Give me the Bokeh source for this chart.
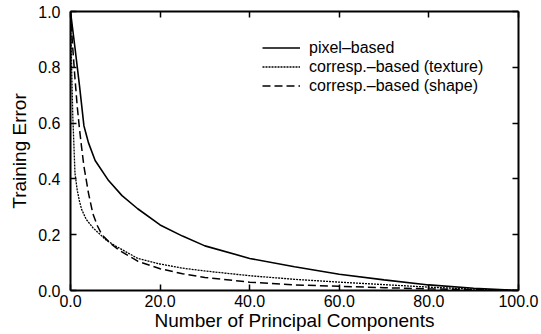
from bokeh.plotting import figure
from bokeh.models import Range1d, LinearAxis, FixedTicker, NumeralTickFormatter, Legend, LegendItem
from bokeh.embed import file_html
from bokeh.resources import INLINE

# Data
pixel_x = [0, 1, 2, 3, 3.5, 4, 5.5, 8.5, 11.5, 15, 20, 25, 30, 40, 50, 60, 70, 80, 90, 100]
pixel_y = [1.0, 0.87, 0.735, 0.59, 0.56, 0.53, 0.466, 0.394, 0.34, 0.293, 0.235, 0.195, 0.16, 0.115, 0.085, 0.058, 0.038, 0.02, 0.008, 0.0]

texture_x = [0, 0.25, 0.5, 1, 1.5, 2, 2.5, 3.5, 5, 6, 8, 10, 15, 20, 25, 30, 40, 50, 60, 70, 80, 90, 100]
texture_y = [1.0, 0.8, 0.63, 0.42, 0.36, 0.32, 0.29, 0.255, 0.225, 0.21, 0.18, 0.16, 0.115, 0.095, 0.08, 0.07, 0.053, 0.04, 0.03, 0.021, 0.012, 0.005, 0.0]

shape_x = [0, 0.5, 1, 1.5, 2, 2.5, 3, 4, 5, 6, 7, 9, 11, 15, 20, 25, 30, 40, 50, 60, 70, 80, 90, 100]
shape_y = [1.0, 0.87, 0.76, 0.66, 0.58, 0.51, 0.445, 0.35, 0.275, 0.232, 0.2, 0.168, 0.143, 0.105, 0.078, 0.06, 0.047, 0.03, 0.02, 0.015, 0.01, 0.006, 0.003, 0.0]

labels = ["pixel\u2013based", "corresp.\u2013based (texture)", "corresp.\u2013based (shape)"]
x_ticks = [0, 20, 40, 60, 80, 100]
y_ticks = [0.0, 0.2, 0.4, 0.6, 0.8, 1.0]

FONT = "Liberation Sans"

p = figure(width=541, height=334, output_backend="svg", toolbar_location=None,
           x_range=Range1d(0, 100), y_range=Range1d(0, 1),
           min_border_left=70, min_border_right=23, min_border_top=11, min_border_bottom=44,
           x_axis_label="Number of Principal Components", y_axis_label="Training Error")
p.grid.visible = False
p.outline_line_color = None
p.background_fill_color = "white"
p.border_fill_color = "white"

r1 = p.line(pixel_x, pixel_y, line_color="black", line_width=1.6)
r2 = p.line(texture_x, texture_y, line_color="black", line_width=1.3, line_dash="2 1")
r3 = p.line(shape_x, shape_y, line_color="black", line_width=1.5, line_dash="8 4")

def style_axis(ax, ticks, show_labels):
    ax.ticker = FixedTicker(ticks=ticks)
    ax.major_tick_in = 6
    ax.major_tick_out = 0
    ax.minor_tick_line_color = None
    ax.axis_line_width = 2
    ax.major_tick_line_width = 1.5
    ax.axis_line_color = "black"
    ax.major_tick_line_color = "black"
    if show_labels:
        ax.formatter = NumeralTickFormatter(format="0.0")
        ax.major_label_text_font = FONT
        ax.major_label_text_font_size = "16px"
        ax.major_label_text_color = "black"
        ax.axis_label_text_font = FONT
        ax.axis_label_text_font_size = "19px"
        ax.axis_label_text_font_style = "normal"
        ax.axis_label_text_color = "black"
    else:
        ax.major_label_overrides = {t: "" for t in ticks}
        ax.major_label_text_font_size = "2px"
        ax.major_label_standoff = 0

style_axis(p.xaxis[0], x_ticks, True)
style_axis(p.yaxis[0], y_ticks, True)
p.xaxis[0].major_label_standoff = 4
p.xaxis[0].axis_label_standoff = 0
p.yaxis[0].major_label_standoff = 10
p.yaxis[0].axis_label_standoff = 5

top_ax = LinearAxis()
style_axis(top_ax, x_ticks, False)
p.add_layout(top_ax, "above")
right_ax = LinearAxis()
style_axis(right_ax, y_ticks, False)
p.add_layout(right_ax, "right")

legend = Legend(items=[LegendItem(label=labels[0], renderers=[r1]),
                       LegendItem(label=labels[1], renderers=[r2]),
                       LegendItem(label=labels[2], renderers=[r3])],
                location=(192, 195), padding=0, spacing=0, margin=0,
                glyph_width=38, glyph_height=19, label_height=19, label_standoff=9,
                label_text_font=FONT, label_text_font_size="16px", label_text_color="black",
                border_line_color=None, background_fill_alpha=0)
p.add_layout(legend)

open("out.html", "w").write(file_html(p, INLINE))
